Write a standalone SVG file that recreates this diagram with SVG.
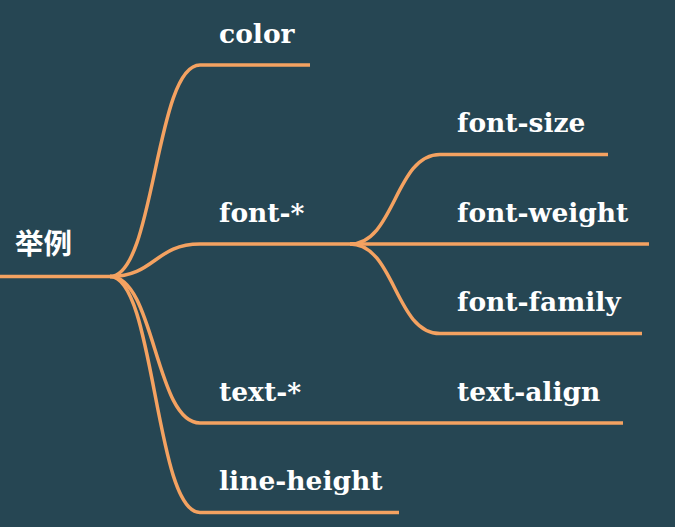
<svg xmlns="http://www.w3.org/2000/svg" width="675" height="527" viewBox="0 0 675 527">
<style>
.bg{fill:#264653}
.ln{fill:none;stroke:#F4A261;stroke-width:3.5}
.t{fill:#ffffff;font-family:"DejaVu Serif","Liberation Serif",serif;font-weight:bold;font-size:26.5px}
.r{fill:#ffffff;font-family:"Noto Sans CJK SC",sans-serif;font-weight:bold;font-size:28.5px}
</style>
<rect class="bg" x="0" y="0" width="675" height="527"/>
<g id="connectors">
<path class="ln" d="M0,276.5 H110"/>
<path class="ln" d="M110,276.5 C155,276.5 155,65 200,65 H310"/>
<path class="ln" d="M110,276.5 C155,276.5 155,244 200,244 H350"/>
<path class="ln" d="M110,276.5 C155,276.5 155,423 200,423 H440"/>
<path class="ln" d="M110,276.5 C155,276.5 155,512.5 200,512.5 H399"/>
<path class="ln" d="M350,244 C395,244 395,154.5 440,154.5 H608"/>
<path class="ln" d="M350,244 H649"/>
<path class="ln" d="M350,244 C395,244 395,333.5 440,333.5 H642"/>
<path class="ln" d="M440,423 H623"/>
</g>
<g id="root"><text class="r" x="15" y="254">举例</text></g>
<g id="color"><text class="t" x="219" y="42.5">color</text></g>
<g id="font"><text class="t" x="219" y="221.5">font-*</text></g>
<g id="text"><text class="t" x="219" y="400.5">text-*</text></g>
<g id="line-height"><text class="t" x="219" y="490">line-height</text></g>
<g id="font-size"><text class="t" x="457" y="132">font-size</text></g>
<g id="font-weight"><text class="t" x="457" y="221.5">font-weight</text></g>
<g id="font-family"><text class="t" x="457" y="311">font-family</text></g>
<g id="text-align"><text class="t" x="457" y="400.5">text-align</text></g>
</svg>
